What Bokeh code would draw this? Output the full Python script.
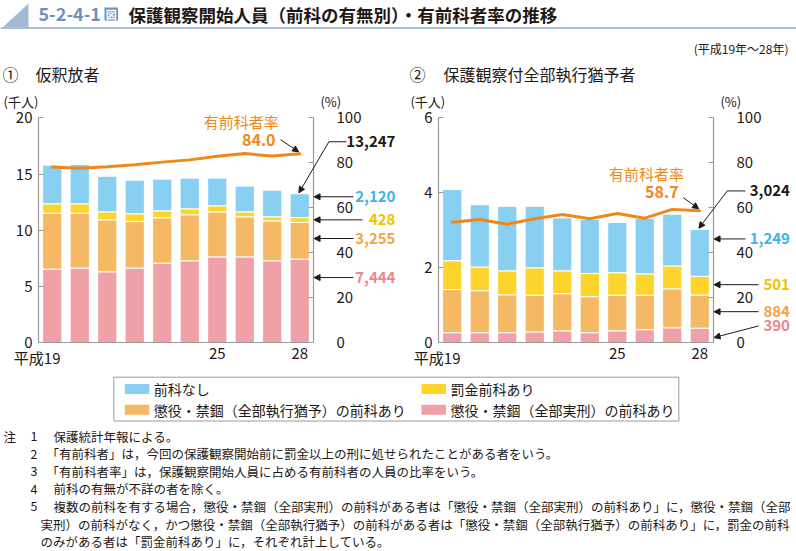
from bokeh.plotting import figure
from bokeh.models import (Range1d, LinearAxis, FixedTicker, Label, Arrow,
                          NormalHead, ColumnDataSource)
from bokeh.layouts import column, row
from bokeh.embed import file_html
from bokeh.resources import INLINE

# ---------------- data ----------------
years = [19, 20, 21, 22, 23, 24, 25, 26, 27, 28]
first_year_label = "平成19"
shown_years = [19, 25, 28]

series_keys = ["jikkei", "yuyo", "bakkin", "nashi"]
series_names = ["懲役・禁錮（全部実刑）の前科あり", "懲役・禁錮（全部執行猶予）の前科あり",
                "罰金前科あり", "前科なし"]

# ① 仮釈放者 (千人)
kari_jikkei = [6.55, 6.64, 6.31, 6.64, 7.08, 7.29, 7.64, 7.64, 7.29, 7.444]
kari_yuyo = [4.98, 4.89, 4.62, 4.15, 4.03, 4.09, 4.00, 3.56, 3.55, 3.255]
kari_bakkin = [0.83, 0.83, 0.71, 0.68, 0.62, 0.53, 0.54, 0.44, 0.36, 0.428]
kari_nashi = [3.43, 3.49, 3.17, 2.99, 2.82, 2.73, 2.46, 2.29, 2.37, 2.120]
kari_rate = [78.1, 77.6, 78.2, 79.1, 80.3, 81.3, 82.9, 84.1, 83.0, 84.0]

# ② 保護観察付全部執行猶予者 (千人)
yuyo_jikkei = [0.27, 0.27, 0.27, 0.29, 0.32, 0.27, 0.32, 0.35, 0.40, 0.390]
yuyo_yuyo = [1.15, 1.12, 1.01, 0.98, 0.99, 0.96, 0.95, 0.92, 1.04, 0.884]
yuyo_bakkin = [0.77, 0.63, 0.64, 0.73, 0.61, 0.62, 0.60, 0.57, 0.61, 0.501]
yuyo_nashi = [1.90, 1.66, 1.72, 1.64, 1.41, 1.44, 1.34, 1.48, 1.38, 1.249]
yuyo_rate = [53.6, 54.8, 52.7, 55.1, 57.0, 55.1, 57.5, 55.4, 59.3, 58.7]

left_ticks_1 = [0, 5, 10, 15, 20]
left_ticks_2 = [0, 2, 4, 6]
pct_ticks = [0, 20, 40, 60, 80, 100]

legend_labels = ["前科なし", "罰金前科あり",
                 "懲役・禁錮（全部執行猶予）の前科あり", "懲役・禁錮（全部実刑）の前科あり"]

notes = [
    ("1", "保護統計年報による。"),
    ("2", "「有前科者」は，今回の保護観察開始前に罰金以上の刑に処せられたことがある者をいう。"),
    ("3", "「有前科者率」は，保護観察開始人員に占める有前科者の人員の比率をいう。"),
    ("4", "前科の有無が不詳の者を除く。"),
    ("5", "複数の前科を有する場合，懲役・禁錮（全部実刑）の前科がある者は「懲役・禁錮（全部実刑）の前科あり」に，懲役・禁錮（全部"),
    ("", "実刑）の前科がなく，かつ懲役・禁錮（全部執行猶予）の前科がある者は「懲役・禁錮（全部執行猶予）の前科あり」に，罰金の前科"),
    ("", "のみがある者は「罰金前科あり」に，それぞれ計上している。"),
]

# ---------------- style ----------------
FONT = "Noto Sans CJK JP"
INK = "#231815"
AXIS = "#9a9a9a"
ORANGE_LINE = "#f0871a"
bar_colors = ["#f0a1a7", "#f5b966", "#fcd42c", "#88cff2"]
text_colors = ["#eb8790", "#f2a444", "#f2c200", "#3fb3e8"]

FIG_W, FIG_H = 398, 282      # chart figure size
PLOT_W, PLOT_H = 275, 225    # plot area inside it
PLOT_BOTTOM = 254.3          # from figure top, px


def fmt(v):
    return f"{int(round(v * 1000)):,}"


def add_label(p, x, y, text, size="15px", color=INK, bold=False, align="left",
              y_range_name="default", y_offset=0):
    p.add_layout(Label(x=x, y=y, text=text, text_font=FONT, text_font_size=size,
                       text_color=color, text_font_style="bold" if bold else "normal",
                       text_align=align, text_baseline="middle",
                       y_range_name=y_range_name, y_offset=y_offset))


def add_arrow(p, xs, ys, xe, ye, head=True, y_range_name="default"):
    end = NormalHead(size=6, fill_color=INK, line_color=INK, line_width=1) if head else None
    p.add_layout(Arrow(x_start=xs, y_start=ys, x_end=xe, y_end=ye, end=end,
                       line_color=INK, line_width=1, y_range_name=y_range_name))


def style_axis(ax):
    ax.axis_line_color = AXIS
    ax.axis_line_width = 1.2
    ax.major_tick_line_color = AXIS
    ax.major_tick_in = 5
    ax.major_tick_out = 0
    ax.minor_tick_line_color = None
    ax.major_label_text_font = FONT
    ax.major_label_text_font_size = "15px"
    ax.major_label_text_color = INK
    ax.major_label_standoff = 5


def make_chart(plot_left, ymax, yticks, segs, rate, ann):
    n = len(years)
    x0 = years[0] - 0.5
    step = PLOT_W / n
    xs = x0 - plot_left / step
    k = PLOT_H / ymax
    kp = PLOT_H / 100
    below = FIG_H - PLOT_BOTTOM
    p = figure(width=FIG_W, height=FIG_H,
               x_range=Range1d(xs, xs + FIG_W / step),
               y_range=Range1d(-below / k, PLOT_BOTTOM / k),
               x_axis_type=None, y_axis_type=None,
               output_backend="svg", toolbar_location=None, min_border=0)
    p.outline_line_color = None
    p.grid.visible = False
    p.extra_y_ranges = {"pct": Range1d(-below / kp, PLOT_BOTTOM / kp)}

    src = ColumnDataSource(dict(year=years, **{kk: v for kk, v in zip(series_keys, segs)}))
    p.vbar_stack(series_keys, x="year", width=0.7, color=bar_colors,
                 line_color="white", line_width=1, source=src)
    p.line(years, rate, y_range_name="pct", line_color=ORANGE_LINE, line_width=3,
           line_join="round", line_cap="round")

    x_end = years[-1] + 0.5
    ya = LinearAxis(ticker=FixedTicker(ticks=yticks), fixed_location=x0,
                    bounds=(0, ymax))
    style_axis(ya)
    ya.major_label_standoff = 6
    p.add_layout(ya, "left")
    ra = LinearAxis(y_range_name="pct", ticker=FixedTicker(ticks=pct_ticks),
                    fixed_location=x_end, bounds=(0, 100))
    style_axis(ra)
    ra.major_label_text_align = "right"
    ra.major_label_standoff = 23
    p.add_layout(ra, "right")
    xa = LinearAxis(ticker=FixedTicker(ticks=shown_years), fixed_location=0,
                    bounds=(x0, x_end))
    style_axis(xa)
    xa.major_tick_line_color = None
    xa.major_label_overrides = {shown_years[0]: ""}
    p.add_layout(xa, "below")
    add_label(p, years[0] + 0.3, 0, first_year_label, align="right", y_offset=-14.5)

    # unit labels
    add_label(p, ann["unit_x"], 107.3, "(千人)", size="13px", y_range_name="pct")
    add_label(p, x_end + 0.25, 107.3, "(%)", size="13px", y_range_name="pct")

    # rate annotation
    add_label(p, ann["rate_lbl_x"], ann["rate_lbl_y"], "有前科者率", size="15px",
              color=ORANGE_LINE, align="center", y_range_name="pct")
    add_label(p, ann["rate_val_x"], ann["rate_val_y"], f"{rate[-1]:.1f}", size="16px",
              color=ORANGE_LINE, bold=True, align="right", y_range_name="pct")
    ax0, ay0 = ann["rate_arrow"]
    add_arrow(p, ax0, ay0, years[-1] - 0.04, rate[-1] + 0.9, y_range_name="pct")

    # total annotation
    total = sum(s[-1] for s in segs)
    tx, ty, bx0, bx1 = ann["total"]
    add_label(p, tx, ty, fmt(total), size="15px", bold=True, align="right")
    add_arrow(p, bx0, ty, bx1, ty, head=False)
    add_arrow(p, bx1, ty, years[-1] - 0.03, total + ann["total_gap"])

    # segment annotations
    for i, (ly, ax_start) in enumerate(ann["segs"]):
        add_label(p, tx, ly[0], fmt(segs[i][-1]), size="15px", bold=True,
                  color=text_colors[i], align="right")
        add_arrow(p, ax_start, ly[0], x_end + 0.02, ly[1])
    return p


ann1 = dict(unit_x=17.23, rate_lbl_x=25.87, rate_lbl_y=98.4, rate_val_x=27.12, rate_val_y=90.1,
            rate_arrow=(27.3, 90.3),
            total=(31.48, 17.87, 29.7, 29.06), total_gap=0.08,
            segs=[((5.80, 5.80), 29.95), ((9.27, 9.27), 29.95),
                  ((10.93, 10.93), 30.28), ((12.98, 12.98), 29.95)])
ann2 = dict(unit_x=17.48, rate_lbl_x=26.06, rate_lbl_y=75.2, rate_val_x=27.23, rate_val_y=67.2,
            rate_arrow=(27.4, 64.5),
            total=(31.28, 4.05, 29.66, 29.0), total_gap=0.03,
            segs=[((0.45, 0.14), 30.14), ((0.83, 0.83), 30.14),
                  ((1.55, 1.55), 30.14), ((2.77, 2.77), 29.66)])

c1 = make_chart(38, 20, left_ticks_1,
                [kari_jikkei, kari_yuyo, kari_bakkin, kari_nashi], kari_rate, ann1)
c2 = make_chart(40, 6, left_ticks_2,
                [yuyo_jikkei, yuyo_yuyo, yuyo_bakkin, yuyo_nashi], yuyo_rate, ann2)


def deco_fig(h, y0):
    p = figure(width=796, height=h, x_range=Range1d(0, 796), y_range=Range1d(y0 + h, y0),
               x_axis_type=None, y_axis_type=None,
               output_backend="svg", toolbar_location=None, min_border=0)
    p.grid.visible = False
    p.outline_line_color = None
    return p


# ---------------- header ----------------
hd = deco_fig(88, 0)
hd.patch([2, 28, 28], [27, 3, 27], fill_color="#a3bad2", line_color=None)
hd.line([0, 796], [27.6, 27.6], line_color="#a9c0d8", line_width=2)
add_label(hd, 38, 13.5, "5-2-4-1", size="18px", color="#6f91b8", bold=True)
hd.quad(left=[104], right=[117.5], top=[7], bottom=[20], fill_color="#6f91b8", line_color=None)
add_label(hd, 110.8, 13.6, "図", size="11px", color="white", bold=True, align="center")
add_label(hd, 128, 13.5, "保護観察開始人員（前科の有無別）・有前科者率の推移",
          size="17.5px", bold=True)
add_label(hd, 788, 48, "(平成19年～28年)", size="12px", align="right")
add_label(hd, 2, 73, "①", size="16px")
add_label(hd, 35, 73, "仮釈放者", size="16px")
add_label(hd, 409, 73, "②", size="16px")
add_label(hd, 443, 73, "保護観察付全部執行猶予者", size="16px")

# ---------------- footer ----------------
ft = deco_fig(181, 370)
ft.quad(left=[113.3], right=[678.3], top=[376.7], bottom=[420.5], fill_color=None,
        line_color="#9a9a9a", line_width=1)
leg_colors = [bar_colors[3], bar_colors[2], bar_colors[1], bar_colors[0]]
leg_x = [124.3, 421, 124.3, 421]
leg_y = [388.5, 388.5, 409.3, 409.3]
ft.quad(left=leg_x, right=[x + 24.5 for x in leg_x], top=[y - 5 for y in leg_y],
        bottom=[y + 5 for y in leg_y], fill_color=leg_colors, line_color=None)
for lx, ly, txt in zip(leg_x, leg_y, legend_labels):
    add_label(ft, lx + 29, ly, txt, size="14px")

add_label(ft, 3, 435.5, "注", size="12.5px")
note_y = 435.5
for num, txt in notes:
    if num:
        add_label(ft, 30, note_y, num, size="12.5px")
        add_label(ft, 53 if not txt.startswith("「") else 46, note_y, txt, size="12.5px")
    else:
        add_label(ft, 40, note_y, txt, size="12.5px")
    note_y += 17.6

layout = column(hd, row(c1, c2), ft)
open("out.html", "w").write(file_html(layout, INLINE))
